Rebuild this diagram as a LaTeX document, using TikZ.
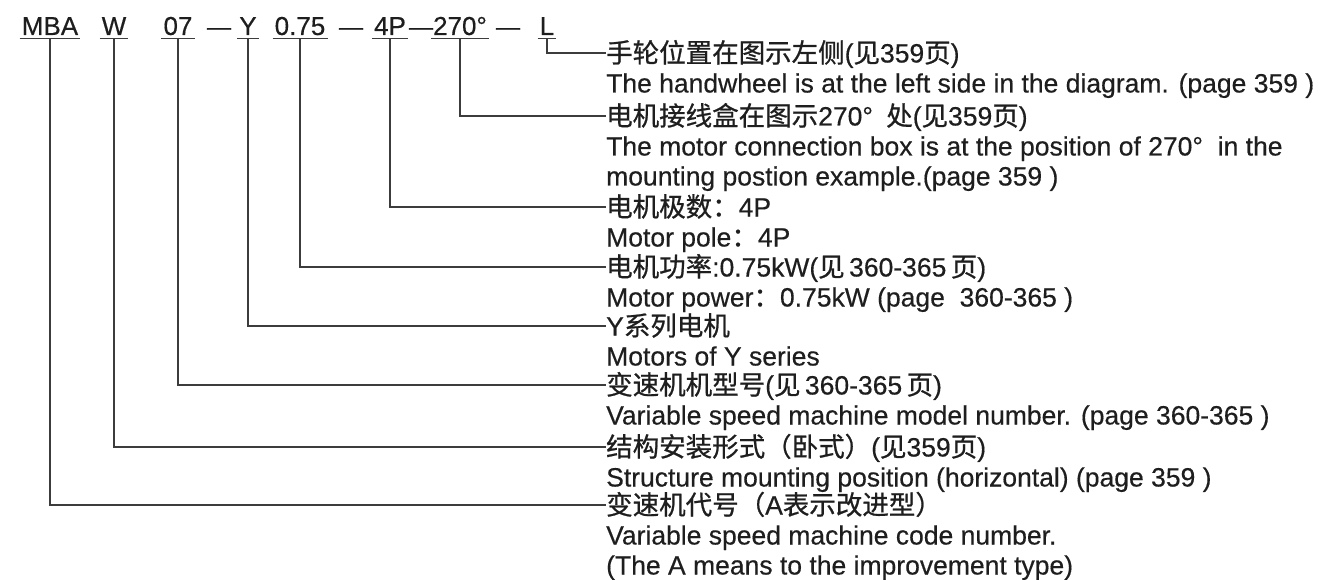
\documentclass[tikz,border=0pt]{standalone}
\usepackage{fontspec}
\setmainfont[FakeBold=0.4]{Liberation Sans}
\newfontfamily\zhfont[FakeBold=0.8]{Noto Sans CJK SC}
\usepackage{xcolor}
\usepackage{tikz}
\usetikzlibrary{calc}

\newcommand{\zh}[1]{{\zhfont #1}}
\definecolor{inkgray}{HTML}{1E1E1E}
\definecolor{linegray}{HTML}{3C3C3C}

\begin{document}
\begin{tikzpicture}[x=1pt, y=-1pt,
  code/.style={anchor=base, inner xsep=2pt, inner ysep=3.5pt, text depth=0pt, text=inkgray, font=\fontsize{26}{30}\selectfont},
  dashsym/.style={anchor=base, inner sep=0pt, text=inkgray, font=\fontsize{24}{30}\selectfont},
  desc/.style={anchor=west, inner sep=0pt, text height=20pt, text depth=1pt, text=inkgray, font=\fontsize{26.5}{30}\selectfont},
  uline/.style={draw=linegray, line width=1.6pt},
  leader/.style={draw=linegray, line width=1.6pt}]

\useasboundingbox (0,0) rectangle (1322,580);

% Text column
\def\tx{606}

% Type code
\node[code] (mba)  at (50,35)  {MBA};
\node[code] (mnt)  at (114,35) {W};
\node[code] (size) at (178,35) {07};
\node[dashsym] (da) at (219,35) {—};
\node[code] (ser)  at (248,35) {Y};
\node[code] (kw)   at (300,35) {0.75};
\node[dashsym] (db) at (351,35) {—};
\node[code] (pole) at (390,35) {4P};
\node[dashsym] (dc) at (421,35) {—};
\node[code] (box)  at (460,35) {270°};
\node[dashsym] (dd) at (508,35) {—};
\node[code] (hw)   at (547,35) {L};

\foreach \c in {mba, mnt, size, ser, kw, pole, box, hw}
  \draw[uline] (\c.south west) -- (\c.south east);

% Descriptions
\node[desc] (hw-zh)   at (\tx,53)  {\zh{手轮位置在图示左侧}(\zh{见}359\zh{页})};
\node[desc] (hw-en)   at (\tx,83)  {The handwheel is at the left side in the diagram. (page 359 )};

\node[desc] (box-zh)  at (\tx,116) {\zh{电机接线盒在图示}270°\hspace{0.5em}\zh{处}(\zh{见}359\zh{页})};
\node[desc] (box-en)  at (\tx,146) {The motor connection box is at the position of 270°\ \ in the};
\node[desc] (box-en2) at (\tx,176) {mounting postion example.(page 359 )};

\node[desc] (pole-zh) at (\tx,207) {\zh{电机极数：}4P};
\node[desc] (pole-en) at (\tx,237) {Motor pole\zh{：}4P};

\node[desc] (kw-zh)   at (\tx,267) {\zh{电机功率}:0.75kW(\zh{见}\,360-365\,\zh{页})};
\node[desc] (kw-en)   at (\tx,297) {Motor power\zh{：}0.75kW (page\ \ 360-365 )};

\node[desc] (ser-zh)  at (\tx,326) {Y\zh{系列电机}};
\node[desc] (ser-en)  at (\tx,356) {Motors of Y series};

\node[desc] (size-zh) at (\tx,385) {\zh{变速机机型号}(\zh{见}\,360-365\,\zh{页})};
\node[desc] (size-en) at (\tx,415) {Variable speed machine model number. (page 360-365 )};

\node[desc] (mnt-zh)  at (\tx,447) {\zh{结构安装形式（卧式）}(\zh{见}359\zh{页})};
\node[desc] (mnt-en)  at (\tx,477) {Structure mounting position (horizontal) (page 359 )};

\node[desc] (mba-zh)  at (\tx,505) {\zh{变速机代号（}A\zh{表示改进型）}};
\node[desc] (mba-en)  at (\tx,535) {Variable speed machine code number.};
\node[desc] (mba-en2) at (\tx,565) {(The A means to the improvement type)};

% Leaders
\foreach \c in {hw, box, pole, kw, ser, size, mnt, mba}
  \draw[leader] (\c.south) |- (\c-zh.west);

\end{tikzpicture}
\end{document}
